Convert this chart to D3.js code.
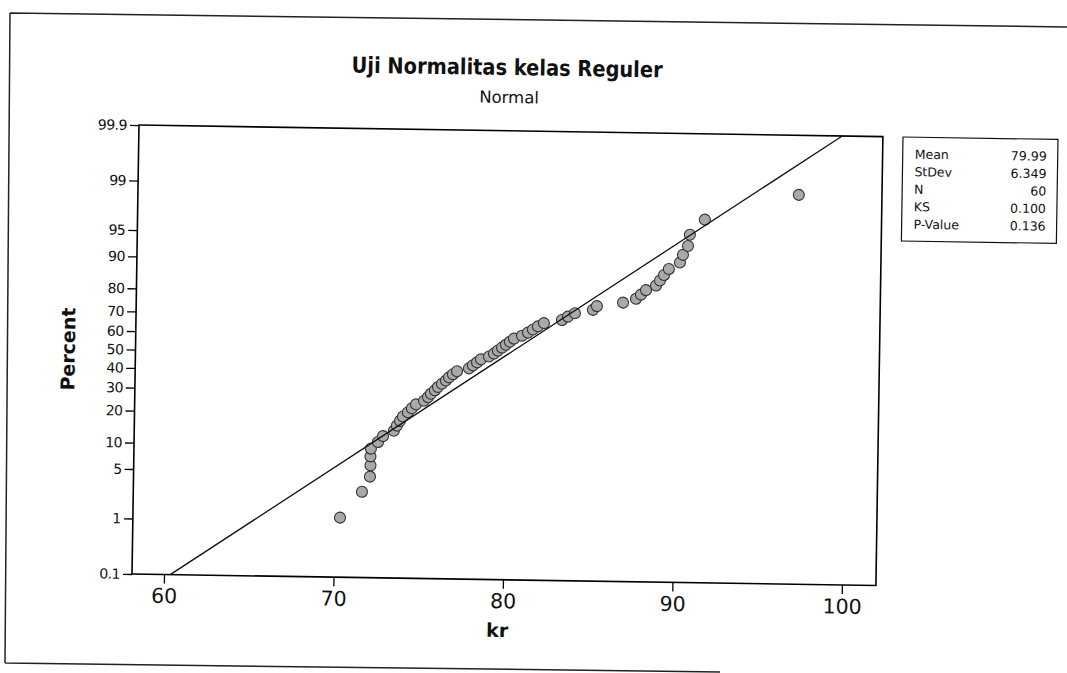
<!DOCTYPE html>
<html><head><meta charset="utf-8">
<script src="https://cdn.jsdelivr.net/npm/d3@7"></script>
<style>
body{margin:0;background:#fff}
svg{display:block}
text{font-family:"DejaVu Sans",Verdana,sans-serif;fill:#111}
</style>
</head><body>
<svg id="c" width="1067" height="673"></svg>
<script>
// ---- data ----
const kr = [70.33,71.60,72.06,72.08,72.07,72.09,72.50,72.79,73.43,73.60,
            73.78,73.95,74.24,74.47,74.71,75.18,75.41,75.58,75.81,75.99,
            76.22,76.45,76.63,76.86,77.10,77.80,78.03,78.27,78.50,78.97,
            79.26,79.49,79.73,79.96,80.19,80.43,80.90,81.25,81.54,81.83,
            82.18,83.24,83.59,84.00,85.06,85.29,86.83,87.59,87.88,88.17,
            88.76,88.99,89.22,89.50,90.15,90.32,90.61,90.71,91.58,97.10];
const percents = [1.16,2.81,4.47,6.13,7.78,9.44,11.09,12.75,14.40,16.06,
                  17.72,19.37,21.03,22.68,24.34,25.99,27.65,29.30,30.96,32.62,
                  34.27,35.93,37.58,39.24,40.89,42.55,44.21,45.86,47.52,49.17,
                  50.83,52.48,54.14,55.79,57.45,59.11,60.76,62.42,64.07,65.73,
                  67.38,69.04,70.70,72.35,74.01,75.66,77.32,78.97,80.63,82.28,
                  83.94,85.60,87.25,88.91,90.56,92.22,93.87,95.53,97.19,98.84];
const yTicks = [0.1,1,5,10,20,30,40,50,60,70,80,90,95,99,99.9];
const xTicks = [60,70,80,90,100];
const statLabels = ["Mean","StDev","N","KS","P-Value"];
const statValues = ["79.99","6.349","60","0.100","0.136"];
const fitMean = 79.99, fitSd = 6.349;
const titleText = "Uji Normalitas kelas Reguler";
const subtitleText = "Normal";
const xLabel = "kr", yLabel = "Percent";

// ---- inverse normal CDF (Acklam) for the probability scale ----
function probit(p){
  const a=[-3.969683028665376e+01,2.209460984245205e+02,-2.759285104469687e+02,1.383577518672690e+02,-3.066479806614716e+01,2.506628277459239e+00];
  const b=[-5.447609879822406e+01,1.615858368580409e+02,-1.556989798598866e+02,6.680131188771972e+01,-1.328068155288572e+01];
  const c=[-7.784894002430293e-03,-3.223964580411365e-01,-2.400758277161838e+00,-2.549732539343734e+00,4.374664141464968e+00,2.938163982698783e+00];
  const d=[7.784695709041462e-03,3.224671290700398e-01,2.445134137142996e+00,3.754408661907416e+00];
  const pl=0.02425, ph=1-pl; let q,r;
  if(p<pl){q=Math.sqrt(-2*Math.log(p));return (((((c[0]*q+c[1])*q+c[2])*q+c[3])*q+c[4])*q+c[5])/((((d[0]*q+d[1])*q+d[2])*q+d[3])*q+1);}
  if(p<=ph){q=p-0.5;r=q*q;return (((((a[0]*r+a[1])*r+a[2])*r+a[3])*r+a[4])*r+a[5])*q/(((((b[0]*r+b[1])*r+b[2])*r+b[3])*r+b[4])*r+1);}
  q=Math.sqrt(-2*Math.log(1-p));return -(((((c[0]*q+c[1])*q+c[2])*q+c[3])*q+c[4])*q+c[5])/((((d[0]*q+d[1])*q+d[2])*q+d[3])*q+1);
}

const svg = d3.select("#c");
svg.append("rect").attr("width",1067).attr("height",673).attr("fill","#fff");
const tilt = 0.89; // the scanned page is slightly rotated

// outer page frame
svg.append("path")
  .attr("d","M10,13 L1067,27 M10,13 L5,663 M5,663 L720,672")
  .attr("fill","none").attr("stroke","#222").attr("stroke-width",1.5);

// plot area
const L=132, R=876, T=125, B=574;
const x = d3.scaleLinear().domain([60-32/16.95, 100+34/16.95]).range([L,R]);
const zMin = probit(0.001), zMax = probit(0.999);
const y = d3.scaleLinear().domain([zMin,zMax]).range([B,T]);

const g = svg.append("g").attr("transform",`rotate(${tilt},${L},${B})`);
g.append("defs").append("clipPath").attr("id","clip")
  .append("rect").attr("x",L).attr("y",T).attr("width",R-L).attr("height",B-T);

const xAxis = g.append("g").attr("transform",`translate(0,${B})`)
  .call(d3.axisBottom(x).tickValues(xTicks).tickSize(9).tickPadding(5).tickFormat(d3.format("d")));
xAxis.select(".domain").remove();
xAxis.selectAll("line").attr("stroke","#000").attr("stroke-width",1.3);
xAxis.selectAll("text").attr("font-size",20.5).attr("fill","#111")
  .style("font-family",'"DejaVu Sans",sans-serif');

const yAxis = g.append("g").attr("transform",`translate(${L},0)`)
  .call(d3.axisLeft(y).tickValues(yTicks.map(p=>probit(p/100))).tickSize(9).tickPadding(3)
        .tickFormat((d,i)=>String(yTicks[i])));
yAxis.select(".domain").remove();
yAxis.selectAll("line").attr("stroke","#000").attr("stroke-width",1.3);
yAxis.selectAll("text").attr("font-size",14).attr("fill","#111").attr("letter-spacing","-0.5")
  .style("font-family",'"DejaVu Sans",sans-serif');

// points
g.append("g").selectAll("circle").data(kr).join("circle")
  .attr("cx",d=>x(d)).attr("cy",(d,i)=>y(probit(percents[i]/100)))
  .attr("r",5.5).attr("fill","#a9a9a9").attr("stroke","#333").attr("stroke-width",1.1);

// fitted line
const fitZ = [zMin, zMax];
g.append("path").attr("clip-path","url(#clip)")
  .attr("d", d3.line().x(z=>x(fitMean+z*fitSd)).y(z=>y(z))(fitZ))
  .attr("fill","none").attr("stroke","#111").attr("stroke-width",1.3);

// frame
g.append("rect").attr("x",L).attr("y",T).attr("width",R-L).attr("height",B-T)
  .attr("fill","none").attr("stroke","#000").attr("stroke-width",1.6);

// texts outside the plot
function placed(px,py,rot){ return svg.append("g").attr("transform",`translate(${px},${py}) rotate(${rot})`); }
placed(507,75,tilt).append("text").attr("text-anchor","middle")
  .attr("font-size",22).attr("font-weight","bold").attr("textLength",311).attr("lengthAdjust","spacingAndGlyphs")
  .text(titleText);
placed(509,103,tilt).append("text").attr("text-anchor","middle").attr("font-size",16.5).text(subtitleText);
placed(68,349,-90+tilt).append("text").attr("text-anchor","middle").attr("dy","0.36em")
  .attr("font-size",19).attr("font-weight","bold").text(yLabel);
placed(497,637,tilt).append("text").attr("text-anchor","middle")
  .attr("font-size",19).attr("font-weight","bold").text(xLabel);

// stats box
const lg = placed(903,137,tilt);
lg.append("rect").attr("width",155).attr("height",104).attr("fill","#fff").attr("stroke","#111").attr("stroke-width",1.2);
statLabels.forEach((s,i)=>{
  lg.append("text").attr("x",12).attr("y",21.5+i*17.5).attr("font-size",12.5).text(s);
  lg.append("text").attr("x",144).attr("y",21.5+i*17.5).attr("font-size",12.5).attr("text-anchor","end").text(statValues[i]);
});
</script>
</body></html>
